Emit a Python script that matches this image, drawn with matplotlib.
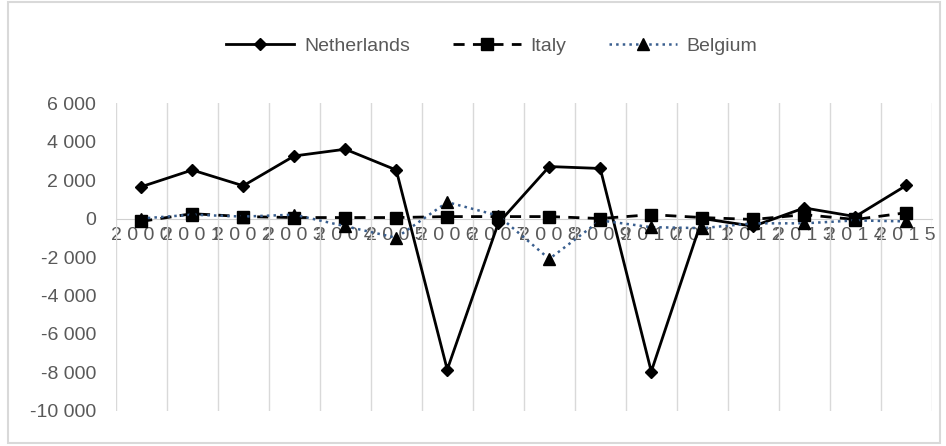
import numpy as np
import matplotlib.pyplot as plt
import matplotlib.patches as mpatches
from matplotlib.ticker import FuncFormatter

plt.rcParams['font.family'] = ['Liberation Sans Narrow', 'Liberation Sans', 'DejaVu Sans']

years = [2000, 2001, 2002, 2003, 2004, 2005, 2006, 2007,
         2008, 2009, 2010, 2011, 2012, 2013, 2014, 2015]
netherlands = [1650, 2520, 1700, 3250, 3600, 2520, -7850, -250,
               2700, 2600, -7950, 0, -400, 550, 100, 1720]
italy = [-150, 250, 100, 50, 50, 50, 100, 100,
         100, 0, 200, 50, -50, 200, -50, 300]
belgium = [0, 200, 100, 200, -400, -1000, 850, 150,
           -2100, -100, -450, -500, -250, -250, -100, -150]

x = np.arange(len(years))

fig = plt.figure(figsize=(9.46, 4.46), dpi=100)
ax = fig.add_axes([0.1223, 0.0785, 0.8627, 0.6905])

# outer chart border
fig.patches.append(mpatches.Rectangle((0.008, 0.006), 0.986, 0.99,
                   transform=fig.transFigure, fill=False,
                   edgecolor='#D9D9D9', linewidth=1.5))

ax.plot(x, netherlands, color='black', linestyle='-', linewidth=2,
        marker='D', markersize=6, label='Netherlands')
ax.plot(x, italy, color='black', linestyle=(0, (4, 3)), linewidth=2,
        marker='s', markersize=9, label='Italy')
ax.plot(x, belgium, color='#3A5F8F', linestyle=':', linewidth=1.8,
        marker='^', markersize=8, markerfacecolor='black',
        markeredgecolor='black', label='Belgium')

ax.set_xlim(-0.5, len(years) - 0.5)
ax.set_ylim(-10000, 6000)
ax.set_yticks(np.arange(-10000, 6001, 2000))
ax.yaxis.set_major_formatter(FuncFormatter(lambda v, p: f'{int(v):,}'.replace(',', ' ')))

ax.set_xticks(x)
ax.set_xticklabels([' '.join(str(y)) for y in years])
ax.set_xticks(np.arange(-0.5, len(years), 1), minor=True)
ax.grid(True, which='minor', axis='x', color='#D9D9D9', linewidth=1)
ax.tick_params(axis='x', which='both', length=0, pad=6,
               labelsize=14, labelcolor='#595959')
ax.tick_params(axis='y', length=0, pad=14, labelsize=14, labelcolor='#595959')

for s in ['top', 'right', 'left']:
    ax.spines[s].set_visible(False)
ax.spines['bottom'].set_position(('data', 0))
ax.spines['bottom'].set_color('#D0D0D0')
ax.spines['bottom'].set_zorder(0)

fig.legend(loc='center', bbox_to_anchor=(0.52, 0.897), ncol=3, frameon=False,
           fontsize=14, handlelength=3.5, columnspacing=2.2, handletextpad=0.5,
           labelcolor='#595959')

plt.savefig('out.png', dpi=100)
